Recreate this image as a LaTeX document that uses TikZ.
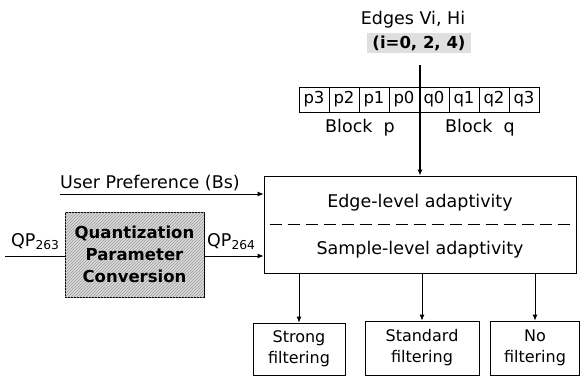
\documentclass[tikz,border=0pt]{standalone}
\usepackage{fontspec}
\setmainfont{DejaVu Sans}
\usetikzlibrary{arrows.meta,patterns}
\tikzset{
  box/.style={draw,line width=0.8pt,inner sep=0pt},
  cell/.style={draw,line width=0.7pt,minimum width=30pt,minimum height=25pt,inner sep=0pt,font=\fontsize{16.5}{18}\selectfont},
  lbl/.style={inner sep=0pt,font=\fontsize{17.5}{20}\selectfont},
  outbox/.style={box,align=center,font=\fontsize{16}{21}\selectfont},
  arr/.style={line width=0.8pt,-{Latex[length=6pt,width=5pt]}},
}
\begin{document}
\begin{tikzpicture}[x=1pt,y=-1pt]
\useasboundingbox (0,0) rectangle (584,380);
% top labels
\node[lbl] (edges) at (413,20) {Edges Vi, Hi};
\node[lbl,fill=gray!25,inner xsep=5pt,inner ysep=3pt,font=\bfseries\fontsize{16.5}{18}\selectfont] (idx) at (419,43) {(i=0, 2, 4)};
% cells
\foreach \n [count=\i from 0] in {p3,p2,p1,p0,q0,q1,q2,q3}{
  \node[cell] (\n) at (314+30*\i,99.5) {\n};
}
\node[lbl] (blkp) at (360,128) {Block\ \ p};
\node[lbl] (blkq) at (480,128) {Block\ \ q};
% main box
\node[box,minimum width=312pt,minimum height=97pt] (main) at (420,224.5) {};
\node[lbl] (edgelvl) at (420,203) {Edge-level adaptivity};
\node[lbl] (samplvl) at (420,250) {Sample-level adaptivity};
\coordinate (dl) at ([xshift=6pt]main.west);
\coordinate (dr) at ([xshift=-4pt]main.east);
\draw[line width=1pt,dash pattern=on 12pt off 6pt] (dl) -- (dr);
% top arrow
\coordinate (vtop) at (420,65);
\draw[line width=1.8pt] (vtop) -- (420,112);
\draw[line width=1.4pt,-{Latex[length=6pt,width=5pt]}] (420,112) -- (main.north);
% QP box
\node[box,minimum width=139pt,minimum height=85pt,fill=gray!30,
      postaction={pattern=north east lines,pattern color=gray!75},
      align=center,font=\bfseries\fontsize{16.5}{22}\selectfont] (qp) at (134.5,254.5) {Quantization\\Parameter\\Conversion};
\coordinate (qpin) at (5,256);
\draw[line width=0.8pt] (qpin) -- (qpin -| qp.west);
\node[lbl,anchor=base west] (qp263) at (11,246) {QP\textsubscript{263}};
\draw[arr] (qp.east |- 0,256) -- (main.west |- 0,256);
\node[lbl,anchor=base west] (qp264) at (207,246) {QP\textsubscript{264}};
% user preference
\coordinate (upin) at (60,194);
\draw[arr] (upin) -- (upin -| main.west);
\node[lbl,anchor=base west] (up) at (60,188) {User Preference (Bs)};
% output boxes
\node[outbox,minimum width=92pt,minimum height=52pt] (strong) at (299,349) {Strong\\filtering};
\node[outbox,minimum width=114pt,minimum height=54pt] (standard) at (422,348) {Standard\\filtering};
\node[outbox,minimum width=89pt,minimum height=54pt] (nofilt) at (535,348) {No\\filtering};
\draw[arr] (strong.north |- main.south) -- (strong.north);
\draw[arr] (standard.north |- main.south) -- (standard.north);
\draw[arr] (nofilt.north |- main.south) -- (nofilt.north);
\end{tikzpicture}
\end{document}
